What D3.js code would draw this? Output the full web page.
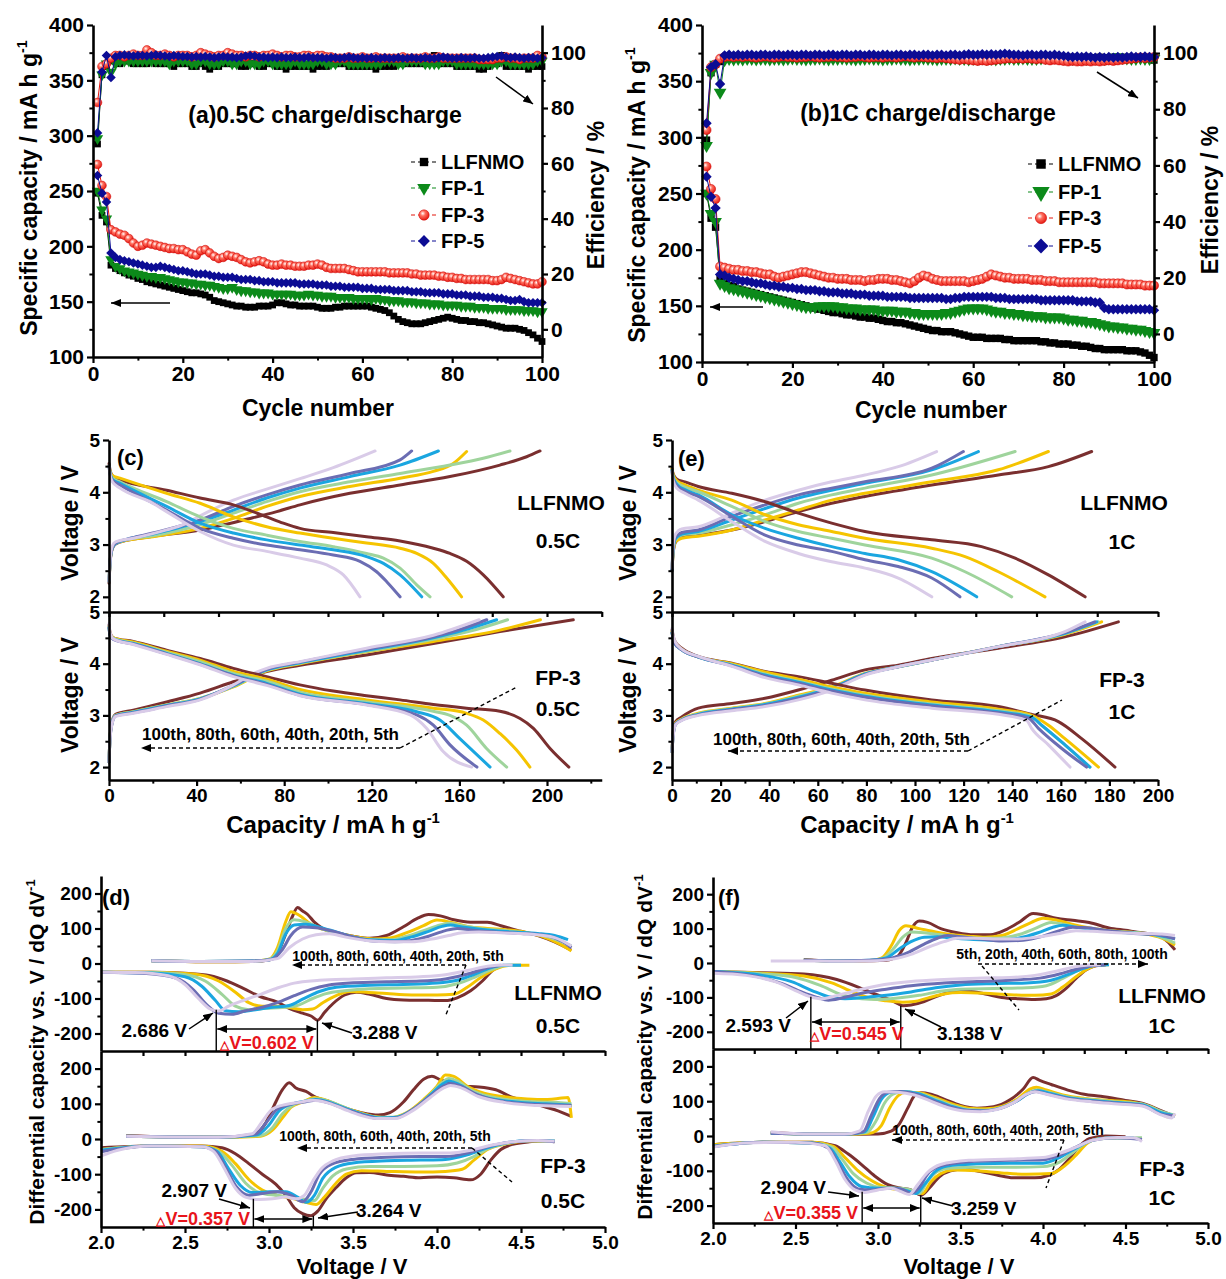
<!DOCTYPE html>
<html>
<head>
<meta charset="utf-8">
<script src="https://cdn.jsdelivr.net/npm/d3@7"></script>
<style>
  body { margin: 0; background: #fff; }
  svg { display: block; }
</style>
</head>
<body>
<svg id="fig" width="1226" height="1279"></svg>
<script>
// Cycling (a, b), charge/discharge curves (c, e) and dQ/dV curves (d, f)

// ---- categories ----
const SAMPLES = ["LLFNMO", "FP-1", "FP-3", "FP-5"];
const CYCLES = ["5th", "20th", "40th", "60th", "80th", "100th"];

// ---- (a) 0.5C : specific capacity (mA h g-1), cycles 1..100 ----
const capA_L = [248,228,222,183,180,178,176,174,173,171, 170,168,167,166,165,164,163,162,161,160, 159,158,158,157,156,154,151,150,149,148, 147,146,146,145,145,145,146,146,146,147, 149,149,148,147,147,146,146,146,146,145, 144,144,144,145,145,146,146,146,146,146, 146,145,144,143,142,140,137,134,132,131, 130,130,130,131,132,133,134,135,136,135, 134,133,133,132,132,131,131,130,129,128, 127,126,126,126,125,124,122,120,117,114];
const capA_F1 = [250,233,225,188,182,180,178,177,176,175, 174,173,173,172,172,171,170,169,168,168, 167,167,166,166,165,165,164,163,162,162, 163,161,160,160,159,159,158,158,158,157, 157,157,157,157,156,156,156,157,156,156, 155,155,155,154,154,154,154,153,153,153, 153,152,153,152,152,151,151,151,150,150, 150,149,149,149,148,148,148,147,147,147, 147,146,146,146,145,145,145,144,144,144, 144,143,143,143,143,142,142,142,141,141];
const capA_F3 = [274,255,245,215,213,211,210,207,203,200, 201,203,202,201,200,199,198,198,197,197, 195,193,192,196,197,194,191,189,190,192, 191,190,188,186,185,186,187,186,184,183, 183,184,183,183,182,182,182,183,183,184, 183,181,180,180,180,180,179,178,177,177, 177,177,177,177,177,176,176,176,176,176, 175,175,174,174,174,174,173,173,172,172, 171,171,170,170,170,170,170,170,169,169, 170,172,171,170,169,168,167,166,166,168];
const capA_F5 = [264,248,240,194,190,188,187,186,185,184, 183,182,181,181,182,181,180,179,178,178, 177,176,175,175,175,174,173,173,172,172, 172,171,170,170,170,169,169,168,168,168, 167,167,167,167,167,166,166,166,166,165, 165,165,164,164,164,163,163,163,163,162, 162,162,161,161,161,161,160,160,160,160, 159,159,159,158,158,158,158,157,157,157, 156,156,156,155,155,155,154,154,154,153, 153,152,151,151,152,150,149,149,149,149];
// ---- (a) 0.5C : coulombic efficiency (%) ----
const effA_L = [67,92,95,97,97,96,97,97,96,96, 96,96,97,96,96,96,96,95,96,96, 96,95,95,96,95,94,95,95,96,96, 96,96,95,95,96,96,95,95,96,96, 95,95,94,95,95,95,95,95,94,95, 95,95,96,96,96,96,95,95,95,95, 95,95,94,95,95,95,95,96,96,96, 96,96,96,96,97,99,96,96,96,96, 95,95,95,95,95,94,94,95,96,96, 99,95,95,95,95,95,94,95,95,95];
const effA_F1 = [69,92,96,93,96,97,97,97,97,97, 97,97,97,97,97,97,96,97,97,97, 97,96,96,97,97,96,96,96,97,97, 96,96,97,97,96,96,96,97,97,96, 96,96,96,96,97,96,96,96,96,97, 97,96,96,96,97,97,96,96,96,96, 96,96,96,96,97,97,97,96,96,97, 97,97,97,96,96,96,96,97,97,97, 96,96,96,96,96,96,96,96,96,96, 97,97,96,96,96,96,96,96,97,97];
const effA_F3 = [82,95,96,98,99,99,98.5,99,99.5,99, 99,101,100,99,99,99.5,99,98.5,99,99, 99,98.5,99,100,99.5,99,98.5,99,99,100, 99.5,99,99,98.5,99,99,98.5,99,99,99.5, 99,98.5,99,99,98.5,98.5,99,99,98.5,99, 99,98.5,98.5,98,98,98,98.5,98,98,98.5, 98,98,98.5,98,98,98,98,98,98.5,98, 98,98,98,98.5,98,98,98.5,98,98,98, 98,98,98,98,98,97.5,97.5,97.5,97.5,98, 98,98.5,98,98,97.5,98,98,98,99,98.5];
const effA_F5 = [71,93,99,91,98.5,99,99.2,99,98.8,99, 99,98.8,99,99.2,99,98.8,98.6,99,98.8,98.6, 98.6,98.4,98.6,98.4,98.6,98.4,98.2,98.4,98.6,98.4, 98.4,98.2,98.4,98.8,99,98.8,98.4,98.4,98.2,98.4, 98.2,98.4,98.2,98.2,98.4,98.2,98.2,98.4,98.2,98.2, 98.2,98,98.2,98.2,98,98.2,98.4,98.2,98,98.2, 98,98.2,98,98,98.2,98,98,98.2,98,98, 98.2,98,98,98.2,98,98,98.2,98.4,98.2,98, 98,98.2,98,98,98.2,98,98,98.2,98.4,98.6, 98.8,98.4,98.2,98.4,98.2,98,98.2,98.2,98,98.2];

// ---- (b) 1C : specific capacity ----
const capB_L = [250,228,220,175,170,168,167,165,164,163, 162,161,160,159,158,157,156,155,154,153, 152,151,150,149,148,147,146,145,144,144, 143,142,142,141,140,140,139,139,138,137, 136,136,135,135,134,133,132,131,130,129, 128,128,127,127,127,126,125,124,123,122, 122,122,121,121,121,121,120,120,119,119, 119,119,119,119,118,118,117,117,116,116, 116,115,115,114,114,113,112,112,111,111, 111,111,111,110,110,110,109,108,106,104];
const capB_F1 = [250,232,225,170,168,166,165,164,163,162, 161,160,159,158,157,156,155,154,153,152, 151,150,149,149,149,150,150,150,150,149, 149,148,148,148,147,147,147,147,146,146, 146,146,145,145,145,144,144,143,143,143, 143,143,143,144,144,145,146,147,148,148, 148,148,147,146,145,145,144,144,143,143, 142,142,141,141,141,140,140,140,140,139, 138,138,137,137,136,136,135,134,133,132, 132,131,131,130,130,129,129,128,127,126];
const capB_F3 = [274,254,245,185,184,183,182,182,181,181, 180,180,179,178,178,176,175,176,177,178, 179,180,180,179,178,177,176,175,175,174, 174,174,173,173,173,172,173,173,174,174, 174,173,173,172,171,170,172,175,177,176, 174,173,172,172,172,172,172,172,171,172, 173,174,176,178,177,176,175,175,174,174, 174,174,173,173,173,172,172,172,171,171, 171,171,171,171,171,171,171,170,170,170, 170,170,170,169,169,169,169,168,168,168];
const capB_F5 = [265,247,237,178,177,175,174,173,172,172, 171,170,170,169,168,168,167,167,166,166, 165,165,164,164,164,163,163,162,162,162, 161,161,161,160,160,160,159,159,159,159, 158,158,158,158,158,157,157,157,157,157, 157,157,157,156,156,157,157,158,158,158, 158,158,158,158,157,157,157,156,156,156, 156,156,156,156,155,155,155,155,155,155, 155,155,154,154,154,154,153,153,148,147, 147,147,147,147,147,147,147,147,147,146];
// ---- (b) 1C : coulombic efficiency ----
const effB_L = [69,93,96,97,98,98.5,98.5,98.3,98.5,98.3, 98.3,98.5,98.3,98.3,98.5,98.3,98.3,98.5,98.3,98.3, 98.5,98.3,98.3,98.5,98.5,98.3,98.5,98.3,98.3,98.5, 98.3,98.5,98.3,98.3,98.5,98.3,98.5,98.3,98.3,98.5, 98.3,98.3,98.5,98.3,98.3,98.5,98.3,98.5,98.3,98.3, 98.5,98.3,98.3,98.5,98.3,98.5,98.3,98.3,98.5,98.3, 98.3,98.5,98.3,98.5,98.3,98.3,98.5,98.3,98.3,98.5, 98.3,98.5,98.3,98.3,98.5,98.3,98.5,98.8,98.5,98.3, 98.3,98.5,98.3,98.3,98.5,98.3,98.3,98.5,98.3,98.3, 98.5,98.3,98.3,98.5,98.3,98.3,98.5,98.3,98,97.5];
const effB_F1 = [67,93,96,86,97.6,98,97.8,98,97.8,98, 98,97.8,98,98,97.8,98,98,97.8,98,98.2, 98,98,97.8,98,98,98.2,98,97.8,98,98, 98.2,98,98,97.8,98,98,98.2,98,98,97.8, 98,98,98.2,98,98,97.8,98,98,98.2,98, 98,97.8,98,98,98,98.2,98,98,97.8,98, 98,98.2,98,98,97.8,98,98,98.2,98,98, 98.2,98,98,98,98.2,98.4,98.6,98.8,98.4,98.2, 98,98,98.2,98,98,98,98.2,98,98,98.2, 98.4,98.6,98.4,98.2,98,98,98.2,98,98,98];
const effB_F3 = [72.6,95,96,98,98.6,98.8,98.6,98.8,98.6,98.8, 98.6,98.4,98.6,98.8,98.6,98.4,98.6,98.8,98.6,98.6, 98.4,98.6,98.6,98.8,98.6,98.4,98.6,98.6,98.8,98.6, 98.6,98.4,98.6,98.6,98.8,98.6,98.4,98.6,98.6,98.4, 98.6,98.6,98.4,98.6,98.8,98.6,98.4,98.6,98.6,98.4, 98.4,98.2,98.4,98.2,98,97.8,97.6,97.8,97.6,97.4, 97.2,97.4,97.2,97.4,97.6,97.8,98,98.2,98,98.2, 98,98.2,98,97.8,98,97.6,97.4,97.6,97.4,97.2, 97,97.2,97,97,97.2,97,97.2,97,97.2,97.4, 97.2,97.4,97.6,97.8,98,98.2,98.4,98.2,98.4,98.6];
const effB_F5 = [75,95,96,89,99.2,99.4,99.2,99.4,99.2,99.4, 99.4,99.2,99.4,99.4,99.2,99.4,99.4,99.2,99.4,99.4, 99.2,99.4,99.4,99.2,99.4,99.4,99.2,99.4,99.4,99.2, 99.4,99.4,99.2,99.4,99.4,99.2,99.4,99.4,99.2,99.4, 99.4,99.2,99.4,99.4,99.2,99.4,99.4,99.2,99.4,99.4, 99.2,99.4,99.4,99.2,99.4,99.4,99.2,99.4,99.6,99.4, 99.4,99.6,99.4,99.6,99.4,99.6,99.8,99.6,99.4,99.4, 99.2,99.4,99.4,99.2,99.4,99.4,99.2,99.4,99.2,99, 98.8,98.6,98.8,98.6,98.8,98.6,98.4,98.6,98.4,98.6, 98.4,98.6,98.4,98.6,98.8,98.6,98.6,98.8,98.6,98.6];

// ---- (c) 0.5C charge / discharge profiles, [capacity, voltage], cycles 5..100 ----
const vcL05_chg = [
  [[0,2.26],[0.6,2.7],[1.5,2.92],[3,3.01],[8,3.08],[18.7,3.15],[41.6,3.28],[64.4,3.5],[76.6,3.63],[87.2,3.76],[110,3.98],[132.9,4.14],[155.7,4.3],[178.5,4.52],[190.7,4.68],[196.8,4.79]],
  [[0,2.3],[0.6,2.72],[1.5,2.93],[3,3.02],[8,3.08],[20,3.15],[41.6,3.31],[56.8,3.5],[72,3.73],[87.2,3.92],[110,4.11],[132.9,4.27],[148.1,4.4],[157.2,4.55],[163.3,4.78]],
  [[0,2.3],[0.6,2.72],[1.5,2.93],[3,3.02],[8,3.09],[20,3.17],[41.6,3.38],[56.8,3.6],[72,3.82],[87.2,4.01],[110,4.2],[132.9,4.36],[155.7,4.52],[170.9,4.65],[183.1,4.79]],
  [[0,2.3],[0.6,2.72],[1.5,2.93],[3,3.02],[8,3.1],[20,3.2],[41.6,3.44],[56.8,3.66],[72,3.89],[87.2,4.08],[110,4.3],[132.9,4.52],[150.4,4.79]],
  [[0,2.3],[0.6,2.72],[1.5,2.94],[3,3.03],[8,3.1],[20,3.22],[41.6,3.47],[56.8,3.73],[72,3.95],[87.2,4.14],[110,4.36],[132.9,4.62],[138.2,4.79]],
  [[0,2.3],[0.6,2.75],[1.5,2.97],[3,3.05],[11.1,3.12],[26.3,3.28],[33.9,3.38],[41.6,3.55],[56.8,3.85],[72,4.06],[87.2,4.26],[102.4,4.47],[121.5,4.79]]
];
const vcL05_dis = [
  [[0,4.55],[0.5,4.42],[1.5,4.32],[5,4.24],[26.3,4.04],[41.6,3.89],[56.8,3.76],[72,3.53],[79.6,3.41],[87.2,3.31],[102.4,3.23],[117.6,3.15],[132.9,3.07],[148.1,2.93],[155.7,2.83],[163.3,2.68],[170.9,2.42],[180,2.0]],
  [[0,4.5],[0.5,4.4],[1.5,4.32],[5,4.27],[26.3,3.98],[41.6,3.79],[56.8,3.53],[72,3.34],[87.2,3.22],[102.4,3.12],[117.6,3.03],[132.9,2.93],[140.5,2.83],[148.1,2.64],[154.2,2.36],[161,2.0]],
  [[0,4.5],[0.5,4.38],[1.5,4.28],[5,4.2],[26.3,3.82],[41.6,3.53],[56.8,3.31],[72,3.18],[87.2,3.06],[102.4,2.96],[117.6,2.83],[125.3,2.74],[132.9,2.55],[140.5,2.23],[146.6,2.0]],
  [[0,4.5],[0.5,4.36],[1.5,4.25],[5,4.17],[26.3,3.73],[41.6,3.41],[56.8,3.22],[72,3.09],[87.2,2.99],[102.4,2.9],[117.6,2.77],[125.3,2.64],[132.9,2.42],[142.8,2.0]],
  [[0,4.5],[0.5,4.35],[1.5,4.23],[5,4.14],[26.3,3.66],[41.6,3.31],[56.8,3.12],[72,2.99],[87.2,2.9],[102.4,2.8],[114.6,2.68],[122.2,2.48],[126.8,2.29],[132.9,2.0]],
  [[0,4.48],[0.5,4.33],[1.5,4.2],[5,4.08],[18.7,3.82],[26.3,3.63],[41.6,3.25],[56.8,2.99],[72,2.87],[87.2,2.74],[99.4,2.61],[107,2.42],[114.6,2.0]]
];
const vcF05_chg = [
  [[0,2.1],[0.5,2.6],[1.5,2.9],[3,3.02],[11.1,3.1],[26.3,3.26],[41.6,3.43],[56.8,3.65],[72,3.85],[87.2,3.97],[117.6,4.17],[148.1,4.39],[178.5,4.62],[212,4.85]],
  [[0,2.1],[0.5,2.6],[1.5,2.88],[3,3.0],[11.1,3.07],[26.3,3.2],[41.6,3.33],[56.8,3.55],[72,3.86],[87.2,4.0],[117.6,4.23],[148.1,4.43],[178.5,4.65],[197,4.85]],
  [[0,2.1],[0.5,2.6],[1.5,2.88],[3,3.0],[11.1,3.07],[26.3,3.2],[41.6,3.33],[56.8,3.56],[72,3.87],[87.2,4.01],[117.6,4.24],[148.1,4.47],[165,4.63],[182,4.85]],
  [[0,2.1],[0.5,2.58],[1.5,2.87],[3,2.99],[11.1,3.06],[26.3,3.19],[41.6,3.32],[56.8,3.57],[72,3.88],[87.2,4.02],[117.6,4.26],[148.1,4.5],[162,4.65],[177,4.85]],
  [[0,2.1],[0.5,2.57],[1.5,2.86],[3,2.99],[11.1,3.05],[26.3,3.18],[41.6,3.31],[56.8,3.58],[72,3.89],[87.2,4.03],[117.6,4.28],[148.1,4.52],[160,4.66],[172.5,4.85]],
  [[0,2.1],[0.5,2.55],[1.5,2.85],[3,2.98],[11.1,3.04],[26.3,3.17],[41.6,3.3],[56.8,3.59],[64.4,3.78],[72,3.91],[87.2,4.04],[117.6,4.3],[148.1,4.55],[169,4.85]]
];
const vcF05_dis = [
  [[0,4.75],[0.5,4.6],[2,4.5],[11.1,4.43],[26.3,4.26],[41.6,4.1],[56.8,3.91],[72,3.75],[87.2,3.59],[102.4,3.47],[117.6,3.38],[132.9,3.3],[148.1,3.21],[163.3,3.14],[178.5,3.08],[187.7,2.94],[193.8,2.75],[201.4,2.36],[210,2.0]],
  [[0,4.72],[0.5,4.58],[2,4.5],[11.1,4.42],[26.3,4.24],[41.6,4.07],[56.8,3.85],[72,3.7],[87.2,3.5],[117.6,3.3],[148.1,3.14],[163.3,3.04],[170.9,2.91],[178.5,2.65],[186.1,2.33],[192.2,2.0]],
  [[0,4.72],[0.5,4.57],[2,4.49],[11.1,4.4],[26.3,4.22],[41.6,4.04],[56.8,3.81],[72,3.66],[87.2,3.45],[117.6,3.26],[148.1,3.08],[155.7,3.0],[163.3,2.81],[172.4,2.36],[181.6,2.0]],
  [[0,4.7],[0.5,4.55],[2,4.48],[11.1,4.39],[26.3,4.2],[41.6,4.0],[56.8,3.78],[72,3.62],[87.2,3.41],[117.6,3.23],[140.5,3.07],[151.1,2.91],[160.2,2.55],[174,2.0]],
  [[0,4.7],[0.5,4.55],[2,4.47],[11.1,4.38],[26.3,4.19],[41.6,3.99],[56.8,3.77],[72,3.6],[87.2,3.39],[117.6,3.21],[140.5,3.01],[148.1,2.81],[155.7,2.43],[168,2.0]],
  [[0,4.78],[0.5,4.6],[2,4.48],[11.1,4.37],[26.3,4.18],[41.6,3.98],[56.8,3.75],[72,3.58],[87.2,3.38],[117.6,3.2],[137.5,3.01],[145,2.75],[152.6,2.3],[165.6,2.0]]
];

// ---- (e) 1C charge / discharge profiles ----
const vcL1_chg = [
  [[0,2.5],[0.5,2.85],[1.5,3.05],[4,3.14],[10.8,3.18],[24.6,3.28],[38.3,3.44],[52,3.63],[65.7,3.79],[79.4,3.92],[106.9,4.14],[134.3,4.33],[154.9,4.49],[172.7,4.78]],
  [[0,2.5],[0.5,2.87],[1.5,3.06],[4,3.12],[10.8,3.16],[24.6,3.28],[38.3,3.47],[52,3.66],[65.7,3.85],[79.4,3.98],[106.9,4.2],[134.3,4.43],[154.9,4.78]],
  [[0,2.5],[0.5,2.9],[1.5,3.1],[4,3.18],[10.8,3.22],[24.6,3.38],[38.3,3.57],[52,3.79],[65.7,3.95],[79.4,4.08],[106.9,4.33],[141.2,4.78]],
  [[0,2.5],[0.5,2.92],[1.5,3.12],[4,3.2],[10.8,3.25],[24.6,3.47],[38.3,3.69],[52,3.89],[65.7,4.04],[79.4,4.17],[106.9,4.43],[126.1,4.78]],
  [[0,2.5],[0.5,2.95],[1.5,3.15],[4,3.23],[10.8,3.28],[24.6,3.54],[38.3,3.76],[52,3.95],[65.7,4.08],[79.4,4.2],[106.9,4.46],[119.9,4.78]],
  [[0,2.55],[0.5,3.0],[1.5,3.2],[4,3.3],[10.8,3.34],[24.6,3.6],[38.3,3.85],[52,4.04],[65.7,4.2],[79.4,4.33],[93.1,4.49],[108.9,4.78]]
];
const vcL1_dis = [
  [[0,4.45],[0.5,4.35],[2,4.25],[5.3,4.2],[10.8,4.11],[24.6,3.98],[38.3,3.82],[52,3.6],[65.7,3.41],[79.4,3.25],[106.9,3.09],[127.4,2.96],[141.2,2.74],[154.9,2.42],[170,2.0]],
  [[0,4.45],[0.5,4.33],[2,4.22],[5.3,4.14],[10.8,4.04],[24.6,3.85],[38.3,3.57],[52,3.38],[65.7,3.25],[79.4,3.12],[106.9,2.93],[120.6,2.77],[134.3,2.48],[153.5,2.0]],
  [[0,4.42],[0.5,4.3],[2,4.18],[5.3,4.1],[10.8,4.01],[24.6,3.73],[38.3,3.44],[52,3.25],[65.7,3.12],[79.4,2.99],[106.9,2.74],[120.6,2.48],[139.8,2.0]],
  [[0,4.42],[0.5,4.28],[2,4.15],[5.3,4.05],[10.8,3.95],[24.6,3.57],[38.3,3.31],[52,3.12],[65.7,2.96],[79.4,2.83],[93.1,2.71],[106.9,2.48],[125.4,2.0]],
  [[0,4.4],[0.5,4.25],[2,4.12],[5.3,4.02],[10.8,3.92],[24.6,3.54],[38.3,3.18],[52,2.99],[65.7,2.87],[79.4,2.71],[93.1,2.58],[106.9,2.36],[118.5,2.0]],
  [[0,4.4],[0.5,4.22],[2,4.08],[5.3,3.98],[10.8,3.85],[24.6,3.44],[38.3,3.06],[52,2.83],[65.7,2.67],[79.4,2.55],[93.1,2.36],[106.9,2.0]]
];
const vcF1_chg = [
  [[0,2.3],[0.5,2.7],[1.5,2.88],[4,2.97],[10.8,3.14],[24.6,3.23],[38.3,3.33],[52,3.49],[65.7,3.68],[79.4,3.88],[93.1,3.97],[106.9,4.1],[134.3,4.3],[161.7,4.52],[183.7,4.81]],
  [[0,2.3],[0.5,2.65],[1.5,2.85],[4,2.93],[10.8,3.04],[24.6,3.14],[38.3,3.23],[52,3.39],[65.7,3.55],[79.4,3.81],[93.1,3.94],[106.9,4.07],[134.3,4.33],[161.7,4.57],[176.8,4.81]],
  [[0,2.3],[0.5,2.64],[1.5,2.84],[4,2.92],[10.8,3.03],[24.6,3.13],[38.3,3.22],[52,3.37],[65.7,3.54],[79.4,3.8],[93.1,3.94],[106.9,4.07],[134.3,4.33],[161.7,4.58],[175.4,4.81]],
  [[0,2.3],[0.5,2.63],[1.5,2.83],[4,2.91],[10.8,3.02],[24.6,3.12],[38.3,3.21],[52,3.35],[65.7,3.53],[79.4,3.8],[93.1,3.94],[106.9,4.07],[134.3,4.33],[161.7,4.59],[174.8,4.81]],
  [[0,2.3],[0.5,2.62],[1.5,2.83],[4,2.91],[10.8,3.01],[24.6,3.11],[38.3,3.19],[52,3.33],[65.7,3.51],[79.4,3.79],[93.1,3.94],[106.9,4.07],[134.3,4.33],[161.7,4.6],[174,4.81]],
  [[0,2.3],[0.5,2.6],[1.5,2.82],[4,2.9],[10.8,3.0],[24.6,3.09],[38.3,3.17],[52,3.3],[65.7,3.49],[79.4,3.78],[93.1,3.94],[106.9,4.07],[134.3,4.33],[161.7,4.62],[170,4.81]]
];
const vcF1_dis = [
  [[0,4.65],[1,4.45],[4,4.3],[10.8,4.14],[24.6,4.01],[38.3,3.85],[52,3.75],[65.7,3.62],[79.4,3.49],[106.9,3.3],[134.3,3.17],[148,3.02],[159,2.88],[168.6,2.55],[182.3,2.0]],
  [[0,4.62],[1,4.42],[4,4.28],[10.8,4.13],[24.6,4.0],[38.3,3.84],[52,3.7],[65.7,3.55],[79.4,3.43],[106.9,3.26],[134.3,3.12],[148,3.0],[154.9,2.81],[161.7,2.55],[175.5,2.0]],
  [[0,4.6],[1,4.4],[4,4.27],[10.8,4.13],[24.6,3.98],[38.3,3.8],[52,3.66],[65.7,3.51],[79.4,3.39],[106.9,3.22],[134.3,3.09],[148,2.98],[152.1,2.81],[161.7,2.43],[172,2.0]],
  [[0,4.6],[1,4.4],[4,4.27],[10.8,4.13],[24.6,3.97],[38.3,3.78],[52,3.64],[65.7,3.49],[79.4,3.37],[106.9,3.2],[134.3,3.07],[148,2.96],[152.1,2.81],[161.7,2.43],[172,2.0]],
  [[0,4.6],[1,4.4],[4,4.27],[10.8,4.13],[24.6,3.96],[38.3,3.76],[52,3.62],[65.7,3.47],[79.4,3.35],[106.9,3.18],[134.3,3.05],[146.6,2.95],[150.8,2.75],[160.4,2.36],[170.6,2.0]],
  [[0,4.68],[1,4.45],[4,4.28],[10.8,4.14],[24.6,3.95],[38.3,3.73],[52,3.59],[65.7,3.43],[79.4,3.3],[106.9,3.14],[134.3,3.02],[146,2.9],[148,2.75],[154.9,2.43],[163.8,2.0]]
];

// ---- (d) 0.5C differential capacity, [voltage, dQ/dV] ----
const dqL05_chg = [
  [[2.3,8],[2.5,6],[2.7,5],[2.9,6],[3.0,10],[3.05,28],[3.1,85],[3.14,135],[3.17,160],[3.2,150],[3.23,140],[3.27,118],[3.32,100],[3.4,88],[3.5,78],[3.6,72],[3.7,80],[3.8,105],[3.88,128],[3.95,140],[4.02,136],[4.1,125],[4.2,118],[4.3,118],[4.38,108],[4.5,92],[4.6,80],[4.7,62],[4.8,38]],
  [[2.3,8],[2.5,6],[2.7,5],[2.9,6],[3.0,12],[3.05,45],[3.1,120],[3.13,148],[3.18,138],[3.25,112],[3.32,98],[3.42,85],[3.52,76],[3.62,70],[3.72,73],[3.82,88],[3.92,108],[4.0,124],[4.08,118],[4.18,106],[4.3,100],[4.42,96],[4.52,90],[4.62,78],[4.72,58],[4.8,36]],
  [[2.3,8],[2.6,6],[2.9,7],[3.0,12],[3.05,35],[3.1,100],[3.15,125],[3.22,118],[3.3,102],[3.4,86],[3.5,76],[3.6,68],[3.72,68],[3.82,78],[3.92,94],[4.02,110],[4.07,115],[4.15,108],[4.25,100],[4.4,94],[4.55,86],[4.65,78],[4.72,66],[4.8,50]],
  [[2.3,8],[2.6,6],[2.9,7],[3.0,10],[3.05,28],[3.1,85],[3.15,110],[3.22,112],[3.3,104],[3.4,90],[3.5,76],[3.6,68],[3.75,66],[3.85,76],[3.95,92],[4.03,106],[4.08,110],[4.15,104],[4.3,96],[4.45,90],[4.6,86],[4.7,80],[4.78,68]],
  [[2.3,8],[2.6,6],[2.9,7],[3.02,12],[3.08,40],[3.13,80],[3.2,104],[3.28,102],[3.38,92],[3.5,76],[3.62,64],[3.75,62],[3.85,66],[3.95,78],[4.05,94],[4.12,100],[4.2,96],[4.35,90],[4.5,86],[4.65,80],[4.75,62],[4.8,45]],
  [[2.3,8],[2.6,6],[2.9,6],[3.05,14],[3.12,45],[3.2,70],[3.28,82],[3.36,85],[3.45,76],[3.58,66],[3.72,62],[3.85,62],[3.97,70],[4.07,80],[4.15,88],[4.25,90],[4.4,87],[4.55,84],[4.7,74],[4.8,50]]
];
const dqL05_dis = [
  [[2.0,-25],[2.3,-25],[2.5,-28],[2.65,-35],[2.75,-50],[2.85,-72],[2.95,-95],[3.05,-110],[3.12,-128],[3.2,-142],[3.25,-150],[3.29,-162],[3.33,-140],[3.38,-115],[3.45,-90],[3.52,-82],[3.6,-88],[3.7,-100],[3.8,-104],[3.95,-105],[4.05,-106],[4.12,-98],[4.2,-78],[4.27,-50],[4.33,-20],[4.4,-5]],
  [[2.0,-25],[2.3,-25],[2.55,-30],[2.7,-50],[2.8,-82],[2.88,-112],[2.96,-122],[3.05,-122],[3.12,-126],[3.2,-132],[3.26,-130],[3.32,-112],[3.4,-92],[3.48,-80],[3.58,-82],[3.7,-86],[3.85,-90],[4.0,-90],[4.1,-88],[4.18,-68],[4.26,-40],[4.35,-15],[4.45,-5],[4.55,-5]],
  [[2.0,-25],[2.3,-26],[2.5,-32],[2.62,-50],[2.72,-88],[2.8,-122],[2.88,-132],[2.98,-128],[3.08,-126],[3.18,-118],[3.26,-100],[3.34,-86],[3.45,-78],[3.6,-72],[3.8,-70],[4.0,-68],[4.12,-58],[4.22,-40],[4.32,-18],[4.42,-5],[4.5,-5]],
  [[2.0,-25],[2.3,-27],[2.5,-38],[2.6,-65],[2.68,-105],[2.74,-135],[2.82,-138],[2.92,-132],[3.02,-125],[3.12,-120],[3.2,-102],[3.3,-80],[3.4,-68],[3.6,-62],[3.8,-60],[4.0,-56],[4.12,-48],[4.22,-32],[4.32,-12],[4.4,-5],[4.5,-5]],
  [[2.0,-25],[2.25,-28],[2.45,-42],[2.55,-75],[2.63,-118],[2.7,-142],[2.78,-145],[2.86,-135],[2.96,-125],[3.05,-112],[3.15,-92],[3.25,-74],[3.35,-62],[3.5,-55],[3.7,-52],[3.9,-50],[4.05,-44],[4.2,-28],[4.3,-12],[4.38,-5]],
  [[2.0,-25],[2.2,-26],[2.4,-35],[2.5,-60],[2.58,-100],[2.65,-130],[2.7,-136],[2.76,-122],[2.85,-105],[2.95,-88],[3.05,-70],[3.15,-56],[3.3,-48],[3.5,-44],[3.7,-41],[3.9,-38],[4.05,-32],[4.18,-20],[4.3,-8],[4.4,-4],[4.45,-5]]
];
const dqF05_chg = [
  [[2.15,10],[2.4,6],[2.7,5],[2.85,8],[2.93,18],[2.98,45],[3.03,95],[3.08,140],[3.12,160],[3.16,145],[3.22,135],[3.28,118],[3.35,108],[3.45,88],[3.55,75],[3.65,68],[3.72,75],[3.8,105],[3.86,140],[3.92,170],[3.97,178],[4.02,168],[4.08,160],[4.15,150],[4.25,148],[4.35,140],[4.45,118],[4.55,105],[4.65,90],[4.72,80],[4.8,64]],
  [[2.15,8],[2.4,6],[2.7,5],[2.95,8],[3.02,25],[3.08,60],[3.13,90],[3.2,105],[3.27,118],[3.33,112],[3.42,95],[3.52,78],[3.62,64],[3.72,60],[3.82,75],[3.92,112],[4.0,150],[4.05,182],[4.1,178],[4.18,150],[4.28,130],[4.4,120],[4.5,115],[4.62,112],[4.72,115],[4.78,118],[4.8,60]],
  [[2.15,8],[2.4,6],[2.7,5],[2.95,10],[3.02,32],[3.08,72],[3.15,98],[3.22,108],[3.28,114],[3.35,108],[3.45,90],[3.55,72],[3.65,62],[3.75,62],[3.85,82],[3.95,122],[4.03,160],[4.07,172],[4.12,165],[4.2,140],[4.3,122],[4.45,110],[4.6,105],[4.72,104],[4.8,100]],
  [[2.15,8],[2.4,6],[2.7,5],[2.93,12],[3.0,40],[3.06,80],[3.14,100],[3.22,108],[3.28,112],[3.36,104],[3.46,86],[3.56,70],[3.66,60],[3.76,62],[3.86,85],[3.96,125],[4.03,155],[4.07,165],[4.13,155],[4.22,130],[4.35,112],[4.5,104],[4.65,100],[4.8,96]],
  [[2.15,8],[2.4,6],[2.7,5],[2.92,14],[2.98,45],[3.05,85],[3.14,100],[3.22,106],[3.28,110],[3.36,102],[3.46,84],[3.56,68],[3.66,58],[3.76,60],[3.86,85],[3.96,122],[4.04,150],[4.08,158],[4.14,150],[4.25,124],[4.4,106],[4.6,98],[4.8,95]],
  [[2.15,8],[2.4,6],[2.7,5],[2.9,15],[2.96,50],[3.02,85],[3.1,98],[3.18,104],[3.26,110],[3.34,104],[3.44,86],[3.54,68],[3.64,58],[3.75,58],[3.86,82],[3.96,118],[4.04,145],[4.08,152],[4.14,146],[4.25,120],[4.4,104],[4.6,95],[4.8,92]]
];
const dqF05_dis = [
  [[2.0,-25],[2.3,-20],[2.6,-20],[2.72,-25],[2.8,-42],[2.88,-70],[2.96,-100],[3.04,-128],[3.1,-160],[3.15,-195],[3.2,-212],[3.25,-218],[3.29,-205],[3.34,-170],[3.4,-138],[3.46,-110],[3.52,-96],[3.6,-95],[3.7,-102],[3.8,-106],[3.9,-110],[4.0,-108],[4.1,-110],[4.2,-116],[4.26,-100],[4.32,-60],[4.38,-30],[4.45,-15],[4.55,-8],[4.65,-5],[4.7,-8]],
  [[2.0,-30],[2.3,-20],[2.6,-20],[2.72,-35],[2.8,-70],[2.88,-115],[2.96,-145],[3.05,-160],[3.15,-170],[3.22,-180],[3.28,-186],[3.33,-165],[3.4,-125],[3.46,-100],[3.55,-90],[3.7,-92],[3.9,-94],[4.05,-92],[4.15,-86],[4.22,-60],[4.3,-30],[4.4,-15],[4.55,-6],[4.7,-5]],
  [[2.0,-30],[2.3,-20],[2.6,-22],[2.7,-35],[2.78,-75],[2.86,-125],[2.94,-152],[3.04,-160],[3.14,-165],[3.22,-172],[3.27,-175],[3.32,-140],[3.38,-105],[3.46,-85],[3.6,-78],[3.8,-78],[4.0,-76],[4.12,-68],[4.22,-50],[4.3,-28],[4.42,-12],[4.55,-5],[4.7,-5]],
  [[2.0,-32],[2.3,-20],[2.6,-22],[2.69,-35],[2.76,-85],[2.83,-132],[2.9,-152],[3.0,-150],[3.1,-150],[3.17,-165],[3.22,-180],[3.27,-160],[3.32,-112],[3.4,-80],[3.5,-68],[3.7,-62],[3.9,-60],[4.05,-58],[4.18,-45],[4.3,-25],[4.42,-10],[4.55,-4],[4.7,-5]],
  [[2.0,-36],[2.3,-20],[2.6,-22],[2.68,-35],[2.74,-80],[2.81,-138],[2.88,-160],[2.96,-155],[3.05,-150],[3.13,-160],[3.2,-178],[3.25,-150],[3.3,-100],[3.37,-72],[3.5,-58],[3.7,-52],[3.9,-50],[4.05,-50],[4.18,-40],[4.3,-22],[4.42,-10],[4.6,-4],[4.7,-8]],
  [[2.0,-48],[2.1,-32],[2.3,-20],[2.6,-22],[2.67,-35],[2.73,-80],[2.8,-140],[2.86,-165],[2.94,-172],[3.02,-170],[3.1,-165],[3.16,-170],[3.21,-160],[3.26,-120],[3.31,-85],[3.38,-62],[3.5,-48],[3.7,-42],[3.9,-40],[4.08,-40],[4.2,-32],[4.32,-18],[4.45,-8],[4.6,-4],[4.7,-6]]
];

// ---- (f) 1C differential capacity ----
const dqL1_chg = [
  [[2.55,10],[2.7,6],[2.9,6],[3.05,8],[3.12,20],[3.17,60],[3.21,105],[3.25,122],[3.3,118],[3.38,100],[3.48,88],[3.58,82],[3.68,82],[3.78,98],[3.86,120],[3.94,144],[4.0,140],[4.08,130],[4.18,124],[4.28,118],[4.4,102],[4.5,95],[4.6,88],[4.7,80],[4.76,60],[4.8,38]],
  [[2.55,8],[2.75,6],[2.95,7],[3.02,14],[3.08,50],[3.13,95],[3.17,108],[3.25,100],[3.35,90],[3.45,82],[3.55,78],[3.65,75],[3.75,80],[3.85,100],[3.93,118],[4.0,130],[4.08,125],[4.18,112],[4.3,100],[4.45,92],[4.6,86],[4.72,72],[4.8,52]],
  [[2.55,8],[2.75,6],[2.95,7],[3.03,14],[3.1,45],[3.15,75],[3.2,90],[3.28,88],[3.38,82],[3.5,76],[3.62,72],[3.72,72],[3.85,82],[3.95,100],[4.05,118],[4.1,115],[4.2,105],[4.35,96],[4.5,90],[4.65,84],[4.8,58]],
  [[2.55,8],[2.75,6],[2.95,8],[3.05,15],[3.12,38],[3.2,62],[3.28,75],[3.36,76],[3.46,72],[3.58,68],[3.72,66],[3.85,72],[3.97,88],[4.06,104],[4.12,110],[4.2,104],[4.35,94],[4.5,88],[4.65,84],[4.8,70]],
  [[2.55,8],[2.75,6],[2.95,8],[3.08,14],[3.18,30],[3.28,55],[3.36,72],[3.42,80],[3.5,76],[3.62,70],[3.75,64],[3.88,66],[4.0,78],[4.1,94],[4.18,104],[4.25,103],[4.4,94],[4.55,86],[4.7,82],[4.8,70]],
  [[2.35,6],[2.55,6],[2.75,5],[2.95,6],[3.1,12],[3.2,25],[3.3,45],[3.4,62],[3.48,72],[3.58,72],[3.7,70],[3.85,70],[3.98,76],[4.1,86],[4.2,94],[4.3,92],[4.45,88],[4.6,86],[4.72,84],[4.8,80]]
];
const dqL1_dis = [
  [[2.0,-25],[2.3,-28],[2.55,-32],[2.75,-48],[2.88,-70],[2.98,-90],[3.06,-104],[3.12,-118],[3.15,-124],[3.2,-122],[3.28,-112],[3.36,-96],[3.45,-84],[3.55,-82],[3.65,-90],[3.75,-100],[3.85,-104],[3.95,-106],[4.02,-104],[4.08,-95],[4.14,-74],[4.2,-45],[4.26,-20],[4.32,-8],[4.38,-5]],
  [[2.0,-25],[2.3,-30],[2.55,-38],[2.72,-58],[2.85,-85],[2.95,-102],[3.05,-110],[3.15,-114],[3.22,-112],[3.3,-102],[3.4,-90],[3.5,-86],[3.65,-88],[3.8,-92],[3.95,-94],[4.05,-90],[4.12,-70],[4.2,-40],[4.28,-15],[4.35,-5],[4.4,-5]],
  [[2.0,-25],[2.3,-32],[2.5,-42],[2.65,-65],[2.78,-92],[2.9,-104],[3.0,-106],[3.12,-102],[3.25,-94],[3.38,-82],[3.5,-76],[3.7,-74],[3.9,-72],[4.02,-66],[4.12,-45],[4.22,-20],[4.3,-8],[4.38,-5]],
  [[2.0,-25],[2.3,-36],[2.48,-55],[2.6,-80],[2.7,-98],[2.8,-104],[2.92,-100],[3.05,-94],[3.2,-84],[3.35,-72],[3.5,-64],[3.7,-60],[3.9,-58],[4.05,-50],[4.15,-34],[4.25,-15],[4.33,-6],[4.4,-5]],
  [[2.0,-25],[2.25,-38],[2.42,-60],[2.54,-85],[2.63,-100],[2.7,-108],[2.78,-102],[2.9,-88],[3.05,-76],[3.2,-66],[3.4,-58],[3.6,-54],[3.8,-50],[3.98,-44],[4.1,-32],[4.2,-18],[4.3,-8],[4.38,-5]],
  [[2.0,-30],[2.2,-36],[2.38,-55],[2.5,-80],[2.59,-98],[2.66,-104],[2.74,-96],[2.85,-82],[3.0,-66],[3.2,-54],[3.4,-48],[3.6,-44],[3.8,-42],[3.95,-36],[4.08,-24],[4.18,-12],[4.28,-6],[4.35,-5]]
];
const dqF1_chg = [
  [[2.35,10],[2.55,6],[2.8,5],[3.0,6],[3.08,14],[3.13,35],[3.18,80],[3.22,115],[3.26,124],[3.32,120],[3.4,106],[3.5,88],[3.6,80],[3.7,84],[3.8,104],[3.88,135],[3.94,168],[3.98,160],[4.05,148],[4.15,132],[4.25,120],[4.35,114],[4.5,102],[4.6,94],[4.7,76],[4.78,60]],
  [[2.35,8],[2.55,6],[2.8,5],[2.95,8],[3.02,30],[3.07,80],[3.12,115],[3.17,126],[3.25,124],[3.35,110],[3.45,92],[3.55,80],[3.65,78],[3.75,85],[3.85,108],[3.92,135],[3.96,140],[4.02,132],[4.12,118],[4.25,108],[4.4,102],[4.55,96],[4.68,78],[4.76,55],[4.8,62]],
  [[2.35,8],[2.55,6],[2.8,5],[2.93,10],[2.99,45],[3.04,95],[3.09,120],[3.15,128],[3.25,122],[3.35,106],[3.45,88],[3.55,76],[3.65,74],[3.75,82],[3.85,104],[3.93,128],[3.97,132],[4.03,126],[4.15,112],[4.3,104],[4.45,98],[4.6,92],[4.72,70],[4.8,60]],
  [[2.35,8],[2.55,6],[2.8,5],[2.92,12],[2.97,55],[3.02,105],[3.07,125],[3.14,128],[3.24,122],[3.34,104],[3.44,86],[3.54,74],[3.64,72],[3.74,80],[3.84,100],[3.92,124],[3.97,130],[4.03,124],[4.15,110],[4.3,102],[4.45,96],[4.6,90],[4.72,66],[4.8,58]],
  [[2.35,8],[2.55,6],[2.8,5],[2.91,12],[2.96,60],[3.01,108],[3.06,126],[3.13,128],[3.23,120],[3.33,102],[3.43,85],[3.53,74],[3.63,72],[3.73,78],[3.83,98],[3.91,122],[3.96,128],[4.03,120],[4.15,108],[4.3,100],[4.45,94],[4.6,88],[4.72,62],[4.8,58]],
  [[2.35,12],[2.55,6],[2.8,6],[2.89,15],[2.94,70],[2.99,115],[3.04,127],[3.12,126],[3.22,118],[3.32,100],[3.42,82],[3.52,72],[3.62,70],[3.72,76],[3.82,95],[3.9,120],[3.95,127],[4.02,120],[4.15,106],[4.3,98],[4.45,92],[4.6,86],[4.72,60],[4.78,52],[4.8,65]]
];
const dqF1_dis = [
  [[2.0,-25],[2.3,-18],[2.6,-18],[2.74,-28],[2.82,-52],[2.9,-82],[2.98,-115],[3.06,-140],[3.14,-150],[3.2,-155],[3.26,-170],[3.31,-150],[3.37,-118],[3.44,-100],[3.52,-95],[3.62,-102],[3.72,-112],[3.82,-120],[3.95,-120],[4.04,-112],[4.1,-95],[4.16,-65],[4.22,-30],[4.28,-8],[4.38,0],[4.5,-2]],
  [[2.0,-25],[2.3,-18],[2.6,-18],[2.73,-30],[2.8,-62],[2.88,-100],[2.96,-128],[3.05,-148],[3.15,-155],[3.22,-160],[3.27,-165],[3.32,-132],[3.38,-108],[3.46,-98],[3.6,-100],[3.75,-106],[3.9,-110],[4.05,-108],[4.12,-90],[4.2,-55],[4.27,-20],[4.33,-8],[4.45,-5],[4.55,-5]],
  [[2.0,-28],[2.3,-18],[2.6,-20],[2.72,-32],[2.78,-65],[2.85,-108],[2.93,-135],[3.02,-148],[3.12,-150],[3.2,-155],[3.25,-165],[3.3,-130],[3.36,-102],[3.44,-92],[3.6,-90],[3.8,-90],[4.0,-88],[4.1,-75],[4.18,-48],[4.26,-20],[4.35,-8],[4.5,-5],[4.6,-5]],
  [[2.0,-30],[2.3,-18],[2.6,-20],[2.71,-35],[2.77,-75],[2.83,-118],[2.9,-145],[3.0,-150],[3.1,-150],[3.18,-158],[3.23,-165],[3.28,-140],[3.34,-105],[3.42,-86],[3.6,-80],[3.8,-78],[4.0,-78],[4.1,-62],[4.18,-40],[4.28,-15],[4.4,-5],[4.55,-5]],
  [[2.0,-30],[2.3,-18],[2.6,-20],[2.7,-35],[2.76,-80],[2.82,-128],[2.88,-152],[2.96,-155],[3.06,-150],[3.14,-152],[3.2,-165],[3.25,-148],[3.3,-110],[3.38,-86],[3.55,-74],[3.8,-70],[4.0,-68],[4.1,-55],[4.2,-32],[4.3,-12],[4.45,-5],[4.6,-10]],
  [[2.0,-32],[2.2,-20],[2.5,-18],[2.68,-28],[2.74,-70],[2.8,-125],[2.86,-155],[2.92,-162],[3.0,-155],[3.08,-150],[3.14,-160],[3.19,-168],[3.24,-140],[3.3,-105],[3.38,-82],[3.55,-70],[3.8,-66],[4.0,-62],[4.1,-50],[4.2,-32],[4.3,-12],[4.45,-4],[4.55,-5],[4.6,-16]]
];

// ---- dQ/dV peak annotations [low peak V, high peak V] ----
const PEAKS_D_TOP = [2.686, 3.288], PEAKS_D_BOT = [2.907, 3.264];
const PEAKS_F_TOP = [2.593, 3.138], PEAKS_F_BOT = [2.904, 3.259];

// ---------------------------------------------------------------------------
const FONT = '"Liberation Sans", Arial, Helvetica, sans-serif';
const RED = "#e8141b";
const SAMPLE_COLORS = ["#000000", "#0c8a1a", "#e3160d", "#0c0c94"];
const CYCLE_COLORS = ["#7a2f2f", "#f5c400", "#9fd49c", "#1aa6e0", "#6b6db3", "#d9cbe8"];
const SYM = [d3.symbolSquare, d3.symbolTriangle, d3.symbolCircle, d3.symbolSquare];
const SYM_ROT = ["", " rotate(180)", "", " rotate(45)"];
const SYM_FILL = ["#000000", "#0c8a1a", "url(#redBall)", "#0c0c94"];

const svg = d3.select("#fig");
svg.append("rect").attr("width", 1226).attr("height", 1279).attr("fill", "#fff");
const defs = svg.append("defs");
defs.append("marker").attr("id", "ah").attr("viewBox", "0 0 10 8").attr("refX", 10).attr("refY", 4)
  .attr("markerUnits", "userSpaceOnUse").attr("markerWidth", 10).attr("markerHeight", 8)
  .attr("orient", "auto-start-reverse")
  .append("path").attr("d", "M0,0 L10,4 L0,8 Z").attr("fill", "#000");
const rg = defs.append("radialGradient").attr("id", "redBall").attr("cx", 0.38).attr("cy", 0.35).attr("r", 0.7);
rg.append("stop").attr("offset", 0).attr("stop-color", "#ffffff");
rg.append("stop").attr("offset", 0.35).attr("stop-color", "#ff7060");
rg.append("stop").attr("offset", 1).attr("stop-color", "#e3120b");

function txt(x, y, s, size, o = {}) {
  const t = svg.append("text").attr("x", x).attr("y", y)
    .attr("font-family", FONT).attr("font-weight", "bold").attr("font-size", size)
    .attr("text-anchor", o.anchor || "start").attr("fill", o.fill || "#000").text(s);
  if (o.sup) t.append("tspan").attr("dy", -size * 0.42).attr("font-size", size * 0.62).text(o.sup);
  if (o.rot) t.attr("transform", `rotate(${o.rot},${x},${y})`);
  return t;
}
function seg(x1, y1, x2, y2, o = {}) {
  const l = svg.append("line").attr("x1", x1).attr("y1", y1).attr("x2", x2).attr("y2", y2)
    .attr("stroke", "#000").attr("stroke-width", o.w || 1.5);
  if (o.dash) l.attr("stroke-dasharray", o.dash);
  if (o.end) l.attr("marker-end", "url(#ah)");
  if (o.start) l.attr("marker-start", "url(#ah)");
  return l;
}
function axis(gen, scale, tx, ty, major, minor, fmt, fs, len = 6) {
  const g = svg.append("g").attr("transform", `translate(${tx},${ty})`);
  if (minor) {
    const mg = g.append("g").call(gen(scale).tickValues(minor).tickSize(len * 0.6).tickSizeOuter(0).tickFormat(""));
    mg.select(".domain").remove();
    mg.selectAll("line").attr("stroke", "#000").attr("stroke-width", 2);
  }
  const ag = g.append("g").call(gen(scale).tickValues(major).tickSize(len).tickSizeOuter(0).tickPadding(3).tickFormat(fmt));
  ag.attr("font-family", FONT).attr("font-size", fs).attr("font-weight", "bold");
  ag.select(".domain").attr("stroke", "#000").attr("stroke-width", 2.6);
  ag.selectAll(".tick line").attr("stroke", "#000").attr("stroke-width", 2.2);
  ag.selectAll("text").attr("fill", "#000");
  return g;
}
const none = () => "";
const plain = d => String(d);          // hyphen minus, as in the figure
const oneDec = d => d.toFixed(1);

// ---- (a)/(b) cycling panels ----
function cyclingPanel(P, caps, effs, area) {
  const x = d3.scaleLinear([0, 100], [P.x0, P.x1]);
  const yL = d3.scaleLinear([100, 400], [P.yb, P.yt]);
  const yR = d3.scaleLinear([-10, 110], [P.yb, P.yt]);
  SAMPLES.forEach((name, i) => {
    [[caps[i], yL], [effs[i], yR]].forEach(([vals, y]) => {
      svg.append("path").datum(vals).attr("fill", "none").attr("stroke", SAMPLE_COLORS[i]).attr("stroke-width", 1)
        .attr("d", d3.line().x((d, k) => x(k + 1)).y(d => y(d)));
      svg.append("g").selectAll("path").data(vals).join("path")
        .attr("d", d3.symbol(SYM[i], area[i]))
        .attr("transform", (d, k) => `translate(${x(k + 1)},${y(d)})${SYM_ROT[i]}`)
        .attr("fill", SYM_FILL[i])
        .attr("stroke", i === 2 ? "#c00" : "none").attr("stroke-width", 0.5);
    });
  });
  axis(d3.axisLeft, yL, P.x0, 0, [100, 150, 200, 250, 300, 350, 400], [125, 175, 225, 275, 325, 375], plain, 21);
  axis(d3.axisRight, yR, P.x1, 0, [0, 20, 40, 60, 80, 100], [10, 30, 50, 70, 90], plain, 21);
  axis(d3.axisBottom, x, 0, P.yb, [0, 20, 40, 60, 80, 100], [10, 30, 50, 70, 90], plain, 21);
  // legend
  SAMPLES.forEach((name, i) => {
    const ly = P.legY[i];
    svg.append("line").attr("x1", P.legX - 13).attr("x2", P.legX + 13).attr("y1", ly).attr("y2", ly)
      .attr("stroke", SAMPLE_COLORS[i]).attr("stroke-width", 1).attr("stroke-dasharray", "4,3");
    svg.append("path").attr("d", d3.symbol(SYM[i], P.legArea[i]))
      .attr("transform", `translate(${P.legX},${ly})${SYM_ROT[i]}`)
      .attr("fill", SYM_FILL[i]).attr("stroke", i === 2 ? "#c00" : "none").attr("stroke-width", 0.5);
    txt(P.legX + 17, ly + 7, name, 20);
  });
}

cyclingPanel({ x0: 93, x1: 542, yb: 357, yt: 25, legX: 424, legY: [162, 188, 215, 241], legArea: [70, 80, 85, 70] },
  [capA_L, capA_F1, capA_F3, capA_F5], [effA_L, effA_F1, effA_F3, effA_F5], [46, 56, 60, 46]);
cyclingPanel({ x0: 702, x1: 1154, yb: 362, yt: 25, legX: 1041, legY: [164, 192, 218, 246], legArea: [90, 130, 100, 110] },
  [capB_L, capB_F1, capB_F3, capB_F5], [effB_L, effB_F1, effB_F3, effB_F5], [54, 70, 66, 54]);

txt(325, 123, "(a)0.5C charge/discharge", 23, { anchor: "middle" });
txt(928, 121, "(b)1C charge/discharge", 23, { anchor: "middle" });
seg(170, 303, 111, 303, { end: true });
seg(496, 77, 533, 104, { end: true });
seg(763, 307, 710, 307, { end: true });
seg(1097, 72, 1138, 98, { end: true });
txt(37, 188, "Specific capacity / mA h g", 23, { anchor: "middle", rot: -90, sup: "-1" });
txt(604, 195, "Efficiency / %", 23, { anchor: "middle", rot: -90 });
txt(318, 416, "Cycle number", 23, { anchor: "middle" });
txt(645, 195, "Specific capacity / mA h g", 23, { anchor: "middle", rot: -90, sup: "-1" });
txt(1218, 200, "Efficiency / %", 23, { anchor: "middle", rot: -90 });
txt(931, 418, "Cycle number", 23, { anchor: "middle" });

// ---- (c)/(e) voltage profiles ----
function vcPanel(P, xmax, major, minor, divTicks, topC, topD, botC, botD) {
  const x = d3.scaleLinear([0, xmax], [P.x0, P.x1]);
  const yT = d3.scaleLinear([1.71, 5], [612, 440]);
  const yB = d3.scaleLinear([1.75, 5], [780, 612]);
  const draw = (curves, y) => curves.forEach((c, i) =>
    svg.append("path").datum(c).attr("fill", "none").attr("stroke", CYCLE_COLORS[i]).attr("stroke-width", 3)
      .attr("stroke-linecap", "round")
      .attr("d", d3.line().x(d => x(d[0])).y(d => y(d[1])).curve(d3.curveMonotoneX)));
  draw(topC, yT); draw(topD, yT); draw(botC, yB); draw(botD, yB);
  axis(d3.axisLeft, yT, P.x0, 0, [2, 3, 4, 5], [2.5, 3.5, 4.5], plain, 19);
  axis(d3.axisLeft, yB, P.x0, 0, [2, 3, 4, 5], [2.5, 3.5, 4.5], plain, 19);
  axis(d3.axisBottom, x, 0, 612, divTicks, null, none, 19, 5);
  axis(d3.axisBottom, x, 0, 780, major, minor, plain, 19);
  return x;
}
vcPanel({ x0: 109, x1: 601.75 }, 225, [0, 40, 80, 120, 160, 200], [20, 60, 100, 140, 180, 220],
  [0, 25, 50, 75, 100, 125, 150, 175, 200, 225], vcL05_chg, vcL05_dis, vcF05_chg, vcF05_dis);
vcPanel({ x0: 672, x1: 1158 }, 200, [0, 20, 40, 60, 80, 100, 120, 140, 160, 180, 200],
  [10, 30, 50, 70, 90, 110, 130, 150, 170, 190],
  [0, 25, 50, 75, 100, 125, 150, 175, 200], vcL1_chg, vcL1_dis, vcF1_chg, vcF1_dis);

txt(117, 465, "(c)", 22);
txt(561, 510, "LLFNMO", 21, { anchor: "middle" });
txt(558, 548, "0.5C", 21, { anchor: "middle" });
txt(558, 685, "FP-3", 21, { anchor: "middle" });
txt(558, 716, "0.5C", 21, { anchor: "middle" });
txt(142, 740, "100th, 80th, 60th, 40th, 20th, 5th", 17);
seg(400, 748, 141, 748, { dash: "4,3", end: true, w: 1.4 });
seg(400, 748, 517, 687, { dash: "4,3", w: 1.4 });
txt(78, 523, "Voltage / V", 23, { anchor: "middle", rot: -90 });
txt(78, 695, "Voltage / V", 23, { anchor: "middle", rot: -90 });
txt(333, 833, "Capacity / mA h g", 24, { anchor: "middle", sup: "-1" });

txt(678, 466, "(e)", 22);
txt(1124, 510, "LLFNMO", 21, { anchor: "middle" });
txt(1122, 549, "1C", 21, { anchor: "middle" });
txt(1122, 687, "FP-3", 21, { anchor: "middle" });
txt(1122, 719, "1C", 21, { anchor: "middle" });
txt(713, 745, "100th, 80th, 60th, 40th, 20th, 5th", 17);
seg(968, 751, 728, 751, { dash: "4,3", end: true, w: 1.4 });
seg(968, 751, 1062, 700, { dash: "4,3", w: 1.4 });
txt(636, 523, "Voltage / V", 23, { anchor: "middle", rot: -90 });
txt(636, 695, "Voltage / V", 23, { anchor: "middle", rot: -90 });
txt(907, 833, "Capacity / mA h g", 24, { anchor: "middle", sup: "-1" });

// ---- (d)/(f) differential capacity ----
function dqPanel(P, topC, topD, botC, botD) {
  const x = d3.scaleLinear([2, 5], [P.x0, P.x1]);
  const yT = d3.scaleLinear([-250, 250], [P.mid, P.top]);
  const yB = d3.scaleLinear([-250, 250], [P.bot, P.mid]);
  const draw = (curves, y) => curves.forEach((c, i) =>
    svg.append("path").datum(c).attr("fill", "none").attr("stroke", CYCLE_COLORS[i]).attr("stroke-width", 3)
      .attr("stroke-linejoin", "round")
      .attr("d", d3.line().x(d => x(d[0])).y(d => y(d[1])).curve(d3.curveMonotoneX)));
  draw(topC, yT); draw(topD, yT); draw(botC, yB); draw(botD, yB);
  axis(d3.axisLeft, yT, P.x0, 0, [-200, -100, 0, 100, 200], [-150, -50, 50, 150], plain, 19);
  axis(d3.axisLeft, yB, P.x0, 0, [-200, -100, 0, 100, 200], [-150, -50, 50, 150], plain, 19);
  axis(d3.axisBottom, x, 0, P.mid, [2.25, 2.5, 2.75, 3, 3.25, 3.5, 3.75, 4, 4.25, 4.5, 4.75, 5], null, none, 19, 5);
  axis(d3.axisBottom, x, 0, P.bot, [2, 2.5, 3, 3.5, 4, 4.5, 5], [2.25, 2.75, 3.25, 3.75, 4.25, 4.75], oneDec, 19);
  return { x, yT, yB };
}
function peakMarks(s, y, peaks, vals, base, arrowY) {
  const xa = s.x(peaks[0]), xb = s.x(peaks[1]);
  seg(xa, y(vals[0]), xa, base, { w: 1.4 });
  seg(xb, y(vals[1]), xb, base, { w: 1.4 });
  seg(xa + 1, arrowY, xb - 1, arrowY, { w: 1.6, start: true, end: true });
}

const D = dqPanel({ x0: 101, x1: 605, top: 876, mid: 1051, bot: 1227 }, dqL05_chg, dqL05_dis, dqF05_chg, dqF05_dis);
peakMarks(D, D.yT, PEAKS_D_TOP, [-132, -162], 1051, 1029);
peakMarks(D, D.yB, PEAKS_D_BOT, [-170, -218], 1227, 1219);
const F = dqPanel({ x0: 713, x1: 1208, top: 877, mid: 1049, bot: 1223 }, dqL1_chg, dqL1_dis, dqF1_chg, dqF1_dis);
peakMarks(F, F.yT, PEAKS_F_TOP, [-98, -124], 1049, 1022);
peakMarks(F, F.yB, PEAKS_F_BOT, [-160, -170], 1223, 1208);

function deltaLabel(x, y, v, anchor) {
  const t = svg.append("text").attr("x", x).attr("y", y).attr("text-anchor", anchor)
    .attr("font-family", FONT).attr("font-weight", "bold").attr("font-size", 18).attr("fill", RED);
  t.append("tspan").attr("font-size", 12).text("\u25B3");
  t.append("tspan").text("V=" + v + " V");
}

// (d)
txt(102, 905, "(d)", 22);
txt(558, 1000, "LLFNMO", 21, { anchor: "middle" });
txt(558, 1033, "0.5C", 21, { anchor: "middle" });
txt(563, 1173, "FP-3", 21, { anchor: "middle" });
txt(563, 1208, "0.5C", 21, { anchor: "middle" });
txt(398, 961, "100th, 80th, 60th, 40th, 20th, 5th", 14, { anchor: "middle" });
seg(466, 965, 292, 965, { dash: "4,3", end: true, w: 1.4 });
seg(466, 965, 445, 1017, { dash: "4,3", w: 1.4 });
txt(385, 1141, "100th, 80th, 60th, 40th, 20th, 5th", 14, { anchor: "middle" });
seg(472, 1148, 297, 1148, { dash: "4,3", end: true, w: 1.4 });
seg(472, 1148, 512, 1182, { dash: "4,3", w: 1.4 });
txt(187, 1037, "2.686 V", 19, { anchor: "end" });
seg(189, 1029, 213, 1013, { end: true });
txt(352, 1039, "3.288 V", 19);
seg(352, 1033, 322, 1023, { end: true });
deltaLabel(267, 1049, "0.602", "middle");
txt(227, 1197, "2.907 V", 19, { anchor: "end" });
seg(219, 1199, 250, 1208, { end: true });
txt(356, 1217, "3.264 V", 19);
seg(358, 1212, 318, 1218, { end: true });
deltaLabel(250, 1225, "0.357", "end");
txt(44, 1052, "Differential capacity vs. V / dQ dV", 21, { anchor: "middle", rot: -90, sup: "-1" });
txt(352, 1274, "Voltage / V", 22, { anchor: "middle" });

// (f)
txt(718, 905, "(f)", 22);
txt(1162, 1003, "LLFNMO", 21, { anchor: "middle" });
txt(1162, 1033, "1C", 21, { anchor: "middle" });
txt(1162, 1176, "FP-3", 21, { anchor: "middle" });
txt(1162, 1205, "1C", 21, { anchor: "middle" });
txt(1062, 959, "5th, 20th, 40th, 60th, 80th, 100th", 14, { anchor: "middle" });
seg(978, 964, 1148, 964, { dash: "4,3", end: true, w: 1.4 });
seg(982, 966, 1019, 1010, { dash: "4,3", w: 1.4 });
txt(998, 1135, "100th, 80th, 60th, 40th, 20th, 5th", 14, { anchor: "middle" });
seg(1064, 1140, 892, 1140, { dash: "4,3", end: true, w: 1.4 });
seg(1064, 1140, 1046, 1188, { dash: "4,3", w: 1.4 });
txt(791, 1032, "2.593 V", 19, { anchor: "end" });
seg(786, 1018, 808, 1001, { end: true });
txt(937, 1040, "3.138 V", 19);
seg(941, 1027, 905, 1009, { end: true });
deltaLabel(857, 1040, "0.545", "middle");
txt(826, 1194, "2.904 V", 19, { anchor: "end" });
seg(828, 1192, 859, 1196, { end: true });
txt(951, 1215, "3.259 V", 19);
seg(953, 1206, 922, 1198, { end: true });
deltaLabel(858, 1219, "0.355", "end");
txt(652, 1047, "Differential capacity vs. V / dQ dV", 21, { anchor: "middle", rot: -90, sup: "-1" });
txt(959, 1274, "Voltage / V", 22, { anchor: "middle" });
</script>
</body>
</html>
